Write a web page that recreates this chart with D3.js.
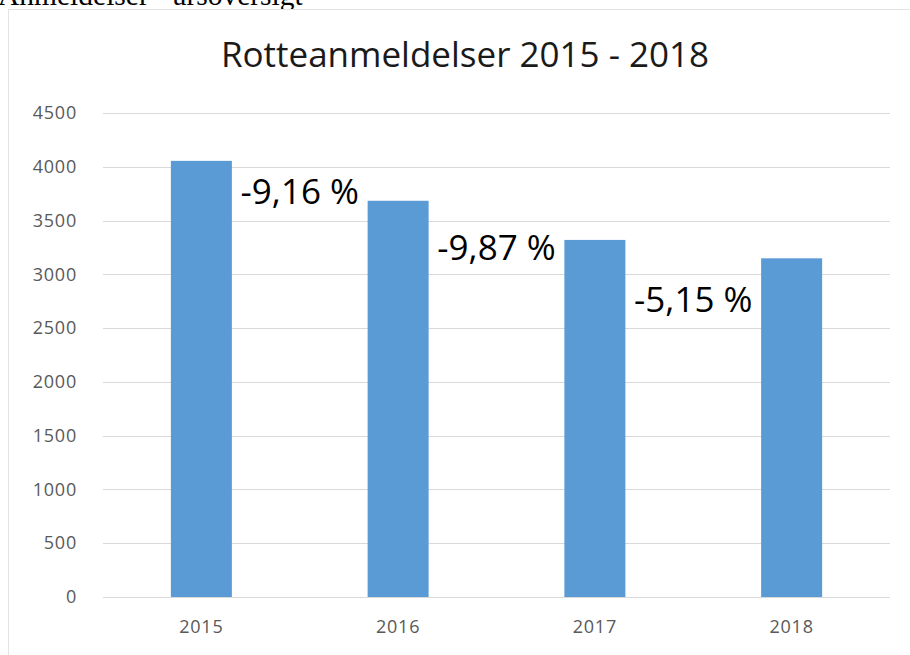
<!DOCTYPE html>
<html>
<head>
<meta charset="utf-8">
<script src="https://cdn.jsdelivr.net/npm/d3@7"></script>
<style>
  body { margin: 0; background: #fff; }
  svg { display: block; }
</style>
</head>
<body>
<div id="chart"></div>
<script>
var years = ["2015", "2016", "2017", "2018"];
var counts = [4055, 3684, 3320, 3149];
var changes = ["-9,16 %", "-9,87 %", "-5,15 %"];
var changeLevels = [3765, 3245, 2760];
var yTicks = [0, 500, 1000, 1500, 2000, 2500, 3000, 3500, 4000, 4500];

var width = 910, height = 655;
var plotLeft = 103, plotRight = 890, plotTop = 113, plotBottom = 597;

var svg = d3.select("#chart")
    .append("svg")
    .attr("width", width)
    .attr("height", height);

// page heading, cut off at the top
svg.append("text")
    .attr("x", -2)
    .attr("y", 5)
    .attr("font-family", "Liberation Serif, serif")
    .attr("font-size", 29.5)
    .attr("fill", "#000")
    .text("Anmeldelser - årsoversigt");

// chart frame
svg.append("rect")
    .attr("x", 8.5)
    .attr("y", 9.5)
    .attr("width", width + 10)
    .attr("height", height + 10)
    .attr("fill", "#fff")
    .attr("stroke", "#e3e3e3");

var x = d3.scaleBand()
    .domain(years)
    .range([plotLeft, plotRight])
    .paddingInner(0.69)
    .paddingOuter(0.345);

var y = d3.scaleLinear()
    .domain([0, 4500])
    .range([plotBottom, plotTop]);

// gridlines
svg.append("g")
    .selectAll("line")
    .data(yTicks)
    .join("line")
    .attr("x1", plotLeft)
    .attr("x2", plotRight)
    .attr("y1", d => Math.round(y(d)) + 0.5)
    .attr("y2", d => Math.round(y(d)) + 0.5)
    .attr("stroke", "#d9d9d9")
    .attr("stroke-width", 1.2);

// y axis labels
var yAxis = d3.axisLeft(y).tickValues(yTicks).tickFormat(d3.format("d")).tickSize(0).tickPadding(0);
svg.append("g")
    .attr("transform", "translate(" + 77 + ",0)")
    .call(yAxis)
    .call(g => g.select(".domain").remove())
    .selectAll("text")
    .attr("font-family", "Open Sans, sans-serif")
    .attr("font-size", 18)
    .attr("letter-spacing", 0.8)
    .attr("fill", "#595959");

// bars
svg.append("g")
    .selectAll("rect")
    .data(counts)
    .join("rect")
    .attr("x", (d, i) => x(years[i]))
    .attr("y", d => y(d))
    .attr("width", x.bandwidth())
    .attr("height", d => y(0) - y(d))
    .attr("fill", "#5b9bd5");

// x axis labels
var xAxis = d3.axisBottom(x).tickSize(0).tickPadding(0);
svg.append("g")
    .attr("transform", "translate(0," + 620 + ")")
    .call(xAxis)
    .call(g => g.select(".domain").remove())
    .selectAll("text")
    .attr("font-family", "Open Sans, sans-serif")
    .attr("font-size", 18)
    .attr("letter-spacing", 0.8)
    .attr("fill", "#595959");

// change labels between bars
var step = x.step();
svg.append("g")
    .selectAll("text")
    .data(changes)
    .join("text")
    .attr("x", (d, i) => x(years[i]) + x.bandwidth() / 2 + step / 2)
    .attr("y", (d, i) => y(changeLevels[i]))
    .attr("dy", "0.35em")
    .attr("text-anchor", "middle")
    .attr("font-family", "Open Sans, sans-serif")
    .attr("font-size", 35)
    .attr("fill", "#000")
    .text(d => d);

// title
svg.append("text")
    .attr("x", 465)
    .attr("y", 67)
    .attr("text-anchor", "middle")
    .attr("font-family", "Open Sans, sans-serif")
    .attr("font-size", 35)
    .attr("fill", "#1a1a1a")
    .text("Rotteanmeldelser 2015 - 2018");
</script>
</body>
</html>
